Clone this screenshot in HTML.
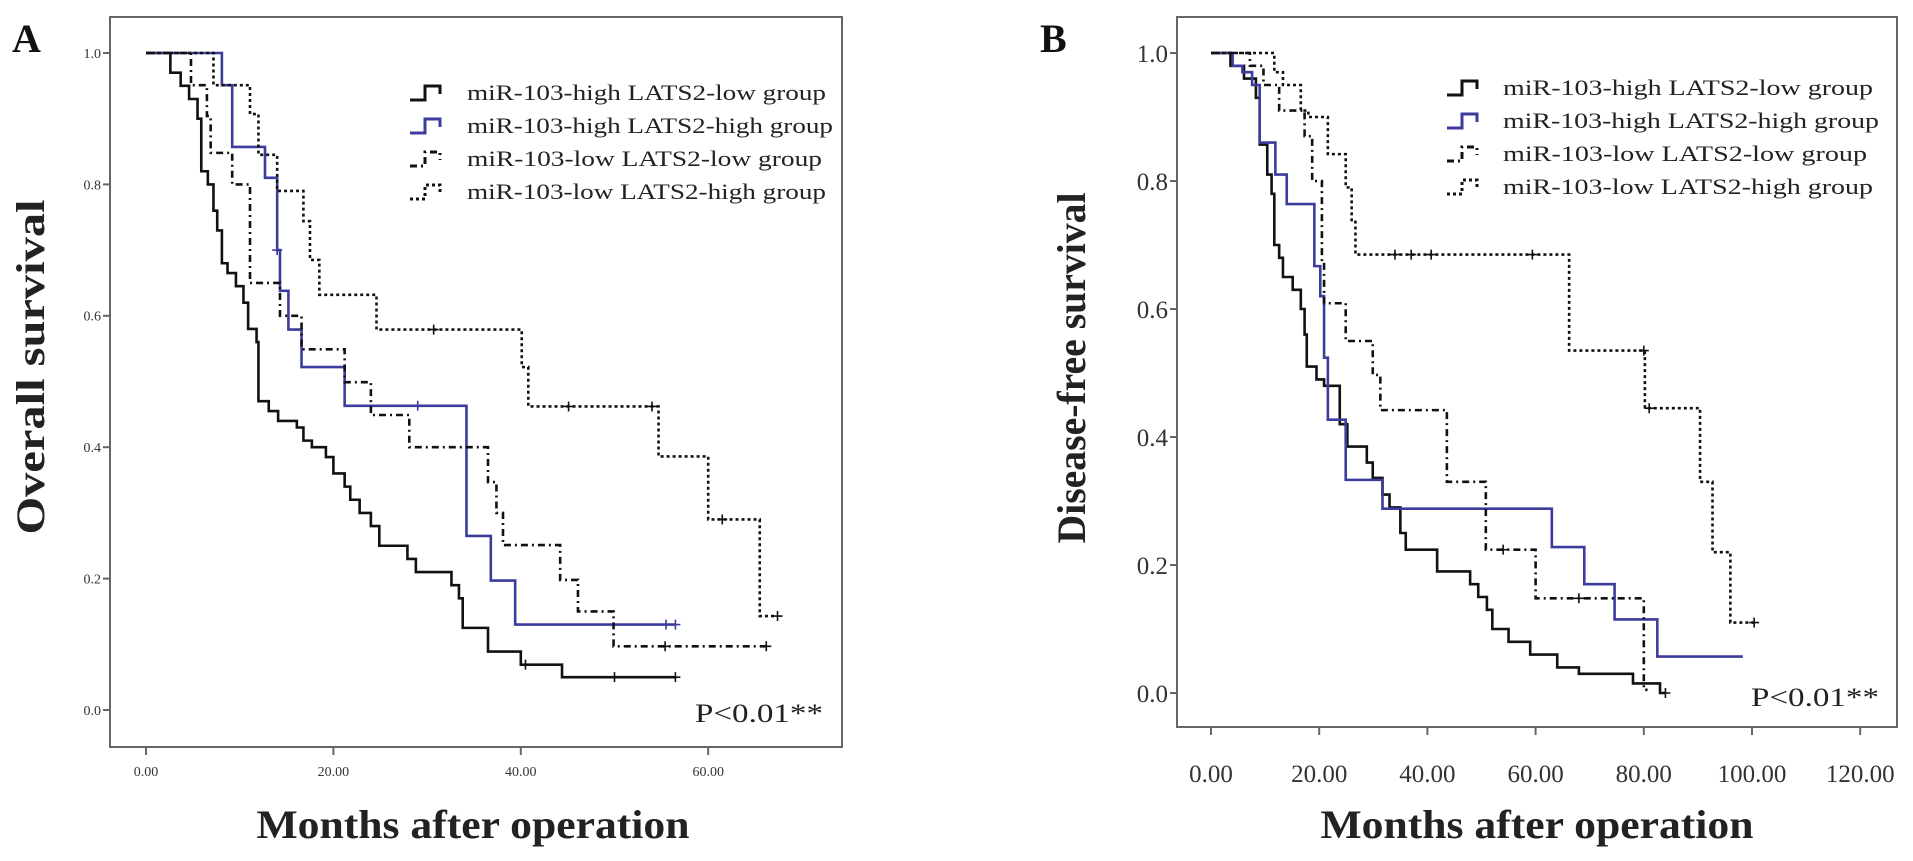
<!DOCTYPE html>
<html><head><meta charset="utf-8"><style>
body{margin:0;background:#fff;width:1913px;height:861px;overflow:hidden}
svg{display:block}
text{font-family:"Liberation Serif",serif}
</style></head><body>
<svg id="chart" width="1913" height="861" viewBox="0 0 1913 861">
<g id="pa"></g>
<g id="pb"></g>
</svg>
<script>
// Panel A data
const aTicksX=[0,20,40,60];
const aTickLabelsX=["0.00","20.00","40.00","60.00"];
const aTicksY=[0,0.2,0.4,0.6,0.8,1.0];
const aTickLabelsY=["0.0","0.2","0.4","0.6","0.8","1.0"];
const aBlackT=[0,2.6,3.7,4.6,5.5,5.9,6.6,7.2,7.6,8.1,8.7,9.6,10.4,10.9,11.8,12,13.1,14.1,16.1,16.8,17.7,19.2,20,21.2,21.8,22.8,24,24.9,27.9,28.8,32.6,33.4,33.8,36.5,40,44.4,56.5];
const aBlackS=[1,.97,.95,.93,.90,.82,.80,.76,.73,.68,.665,.645,.62,.58,.56,.47,.455,.44,.43,.41,.40,.385,.36,.34,.32,.30,.28,.25,.23,.21,.19,.17,.125,.089,.069,.05,.05];
const aBlackC=[40.5,50,56.5];
const aBlueT=[0,8.1,9.2,12.7,14,14.3,15.2,16.6,21.2,34.2,36.8,39.4,56.5];
const aBlueS=[1,.951,.857,.81,.70,.638,.579,.522,.463,.265,.197,.13,.13];
const aBlueC=[14,29,55.5,56.5];
const aDashT=[0,4.8,6.5,6.9,9.2,11.1,14.3,16.6,21.2,24,28.1,36.5,37.4,38.1,44.2,46.1,49.9,66.2];
const aDashS=[1,.951,.904,.848,.80,.65,.60,.549,.499,.449,.40,.347,.30,.251,.198,.15,.097,.097];
const aDashC=[55.4,66.2];
const aDotT=[0,7.2,11.1,12,14,16.8,17.5,18.5,24.6,40.1,40.8,54.7,60,65.5,67.4];
const aDotS=[1,.951,.907,.845,.79,.744,.685,.632,.579,.522,.462,.386,.29,.143,.143];
const aDotC=[30.7,45.1,54,61.5,67.4];
// Panel B data
const bTicksX=[0,20,40,60,80,100,120];
const bTickLabelsX=["0.00","20.00","40.00","60.00","80.00","100.00","120.00"];
const bTicksY=[0,0.2,0.4,0.6,0.8,1.0];
const bTickLabelsY=["0.0","0.2","0.4","0.6","0.8","1.0"];
const bBlackT=[0,3.6,6.1,8.3,9,10.4,11.2,11.7,12.6,13.3,15.1,16.6,17.3,17.7,19.5,20.9,23.8,25.2,28.8,29.9,31.7,33,35,36,41.8,47.9,49.4,51,52,55,59,64,68,78,83,84];
const bBlackS=[1,.98,.96,.93,.857,.81,.78,.70,.68,.65,.63,.60,.56,.51,.49,.48,.42,.385,.36,.336,.31,.29,.25,.224,.19,.17,.15,.13,.10,.08,.06,.04,.03,.015,0,0];
const bBlackC=[84];
const bBlueT=[0,4,5.8,7.6,9,11.9,14,19.1,20.2,20.9,21.6,24.9,31.7,63,69,74.6,82.5,98.3];
const bBlueS=[1,.98,.97,.95,.86,.81,.764,.667,.62,.524,.427,.333,.288,.228,.17,.115,.057,.057];
const bBlueC=[];
const bDashT=[0,7.2,9.7,12.6,17.3,18.7,20.5,20.9,24.9,29.9,31.3,43.6,50.8,60,80,80.7];
const bDashS=[1,.98,.95,.91,.87,.80,.67,.609,.55,.497,.442,.33,.224,.148,.005,.005];
const bDashC=[54,68];
const bDotT=[0,11.7,13.3,16.6,18,21.6,24.9,26,26.7,66.2,80.2,90.4,92.7,96,100.4];
const bDotS=[1,.97,.95,.91,.90,.842,.79,.736,.685,.535,.445,.33,.22,.11,.11];
const bDotC=[34,37,40.7,59.4,80,81,100.4];
const legendLabels=["miR-103-high LATS2-low group","miR-103-high LATS2-high group","miR-103-low LATS2-low group","miR-103-low LATS2-high group"];

const NS="http://www.w3.org/2000/svg";
function mk(parent,tag,attrs){const e=document.createElementNS(NS,tag);for(const k in attrs)e.setAttribute(k,attrs[k]);parent.appendChild(e);return e;}
const BLUE="#3b3c9c";
const styles=[{c:"#111",d:""},{c:BLUE,d:""},{c:"#111",d:"7,4,2,4"},{c:"#111",d:"3,3"}];
const sNames=["high-low","high-high","low-low","low-high"];

function panel(g,cfg){
  const sx=t=>cfg.x0+t*cfg.kx, sy=s=>cfg.y0-s*cfg.ky;
  const fr=mk(g,"rect",{x:cfg.fx,y:cfg.fy,width:cfg.fw,height:cfg.fh,fill:"none",stroke:"#666","stroke-width":2});
  
  
  cfg.ticksY.forEach((v,i)=>{
    const l=mk(g,"line",{x1:cfg.fx-7,x2:cfg.fx,y1:sy(v),y2:sy(v),stroke:"#666","stroke-width":2});
    
    
    const t=mk(g,"text",{x:cfg.fx-9,y:sy(v)+cfg.tfs*0.35,"text-anchor":"end","font-size":cfg.tfs,fill:"#333","font-family":cfg.tff});
    t.textContent=cfg.labelsY[i];
    
    
  });
  cfg.ticksX.forEach((v,i)=>{
    const l=mk(g,"line",{x1:sx(v),x2:sx(v),y1:cfg.fy+cfg.fh,y2:cfg.fy+cfg.fh+8,stroke:"#666","stroke-width":2});
    
    
    const t=mk(g,"text",{x:sx(v),y:cfg.xly,"text-anchor":"middle","font-size":cfg.tfs,fill:"#333","font-family":cfg.tff});
    t.textContent=cfg.labelsX[i];
    
    
  });
  cfg.series.forEach((s,k)=>{
    let d="M"+sx(s.t[0])+","+sy(s.s[0]);
    for(let i=1;i<s.t.length;i++){d+=" H"+sx(s.t[i])+" V"+sy(s.s[i]);}
    const p=mk(g,"path",{d:d,fill:"none",stroke:styles[k].c,"stroke-width":2.6,"stroke-dasharray":styles[k].d});
    
    
    s.c.forEach(ct=>{
      let sv=s.s[0];for(let i=0;i<s.t.length;i++){if(s.t[i]<=ct)sv=s.s[i];}
      const m=mk(g,"path",{d:"M"+(sx(ct)-5)+","+sy(sv)+" h10 M"+sx(ct)+","+(sy(sv)-5)+" v10",stroke:styles[k].c,"stroke-width":1.6});
      
      
    });
  });
  legendLabels.forEach((lab,k)=>{
    const y=cfg.ly+k*cfg.lgap;
    const sym=mk(g,"path",{d:"M"+cfg.lx+","+(y+7)+" h15 v-14 h15 v8",fill:"none",stroke:styles[k].c,"stroke-width":3,"stroke-dasharray":styles[k].d});
    
    
    const t=mk(g,"text",{x:cfg.lx+cfg.lsw,y:y+7,"font-size":cfg.lfs,fill:"#222",textLength:cfg.ltl[k],lengthAdjust:"spacingAndGlyphs"});
    t.textContent=lab;
    
    
  });
  const pv=mk(g,"text",{x:cfg.px,y:cfg.py,"font-size":26,fill:"#222",textLength:128,lengthAdjust:"spacingAndGlyphs"});
  pv.textContent="P<0.01**";
  
  
  const xt=mk(g,"text",{x:cfg.xtx,y:838,"text-anchor":"middle","font-size":40,"font-weight":"bold",fill:"#222",textLength:433,lengthAdjust:"spacingAndGlyphs"});
  xt.textContent="Months after operation";
  
  
  const yt=mk(g,"text",{x:0,y:0,transform:"translate("+cfg.ytx+","+cfg.yty+") rotate(-90)","text-anchor":"middle","font-size":40,"font-weight":"bold",fill:"#222",textLength:cfg.ytl,lengthAdjust:"spacingAndGlyphs"});
  yt.textContent=cfg.ytitle;
  
  
  const pl=mk(g,"text",{x:cfg.plx,y:52,"font-size":40,"font-weight":"bold",fill:"#111"});
  pl.textContent=cfg.plab;
  
  
}

panel(document.getElementById('pa'),{
  fx:110,fy:17,fw:732,fh:730,x0:146,kx:9.37,y0:710,ky:657,
  ticksX:aTicksX,labelsX:aTickLabelsX,ticksY:aTicksY,labelsY:aTickLabelsY,
  tfs:14,tff:"Liberation Sans, sans-serif",xly:776,
  series:[{t:aBlackT,s:aBlackS,c:aBlackC},{t:aBlueT,s:aBlueS,c:aBlueC},{t:aDashT,s:aDashS,c:aDashC},{t:aDotT,s:aDotS,c:aDotC}],
  lx:410,ly:93,lgap:33,lsw:57,lfs:22,ltl:[359,366,355,359],
  px:695,py:722,xtx:473,ytx:44,yty:367,ytl:335,ytitle:"Overall survival",plx:12,plab:"A"
});
panel(document.getElementById('pb'),{
  fx:1177,fy:17,fw:720,fh:710,x0:1211,kx:5.41,y0:693,ky:640,
  ticksX:bTicksX,labelsX:bTickLabelsX,ticksY:bTicksY,labelsY:bTickLabelsY,
  tfs:25,tff:"Liberation Serif, serif",xly:782,
  series:[{t:bBlackT,s:bBlackS,c:bBlackC},{t:bBlueT,s:bBlueS,c:bBlueC},{t:bDashT,s:bDashS,c:bDashC},{t:bDotT,s:bDotS,c:bDotC}],
  lx:1447,ly:88,lgap:33,lsw:56,lfs:22,ltl:[370,376,364,370],
  px:1751,py:706,xtx:1537,ytx:1085,yty:368,ytl:351,ytitle:"Disease-free survival",plx:1040,plab:"B"
});
</script>
</body></html>
